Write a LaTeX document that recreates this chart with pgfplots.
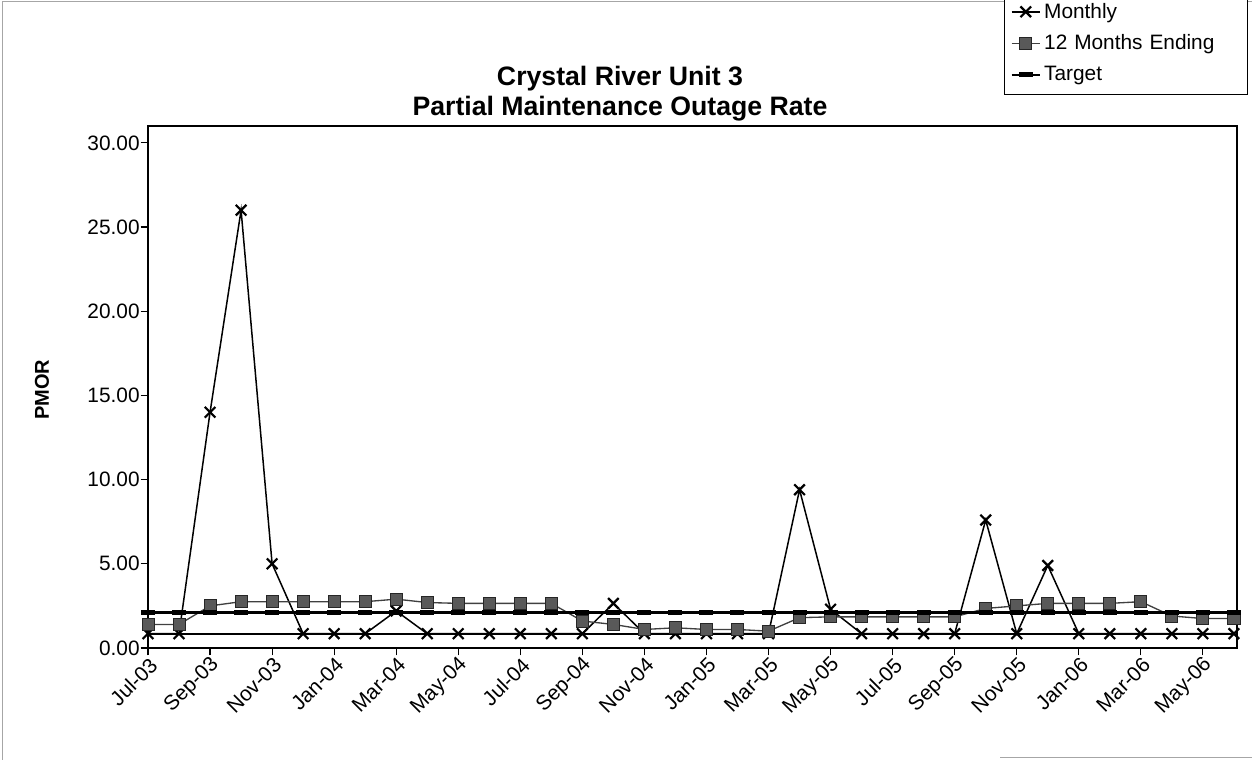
\documentclass[border=0pt]{standalone}
\usepackage{pgfplots}
\pgfplotsset{compat=1.18}
\usepackage{fontspec}
\setmainfont{Liberation Sans}
\begin{document}
\begin{tikzpicture}[x=1pt,y=1pt]
\path[use as bounding box] (0,0) rectangle (751.8,456.6);
\draw[black!35, line width=0.5pt] (1.2,0.8) -- (1.2,455.8);
\draw[black!35, line width=0.5pt] (1.2,455.8) -- (751.0,455.8);
\draw[black!35, line width=0.5pt] (600,2.4) -- (751.0,2.4);
\begin{axis}[
  anchor=south west, at={(88.8pt,67.8pt)},
  width=653.4pt, height=313.2pt, scale only axis,
  xmin=0, xmax=35.1, ymin=0, ymax=31,
  xtick={0,2,...,34},
  xticklabels={Jul-03,Sep-03,Nov-03,Jan-04,Mar-04,May-04,Jul-04,Sep-04,Nov-04,Jan-05,Mar-05,May-05,Jul-05,Sep-05,Nov-05,Jan-06,Mar-06,May-06},
  xticklabel style={rotate=45, anchor=east, font=\fontsize{12.5}{14}\selectfont, inner sep=1pt, yshift=-5pt, xshift=1pt},
  ytick={0,5,...,30},
  /pgf/number format/assume math mode=true,
  yticklabel style={/pgf/number format/fixed, /pgf/number format/fixed zerofill, /pgf/number format/precision=2, font=\fontsize{12.5}{14}\selectfont, xshift=3pt},
  tick pos=left, tick align=outside, major tick length=4.5pt,
  tick style={black, line width=0.7pt},
  axis line style={black, line width=1pt},
  clip=false,
  legend style={at={(1.0101,1.259)}, anchor=north east, draw=black, line width=0.6pt,
    font=\fontsize{12.5}{14}\selectfont, row sep=4.5pt, inner xsep=4pt, inner ysep=5pt,
    legend cell align=left, nodes={text width=116pt}},
  legend image post style={line width=1pt},
]
\addplot[forget plot, black, line width=1.1pt] coordinates {(0,0.85) (35,0.85)};
\addplot[black, line width=0.9pt, mark=x, mark size=4.5pt, mark options={line width=1.3pt}] coordinates {
(0,0.85) (1,0.85) (2,14.0) (3,26.0) (4,5.0) (5,0.85) (6,0.85) (7,0.85) (8,2.2) (9,0.85)
(10,0.85) (11,0.85) (12,0.85) (13,0.85) (14,0.85) (15,2.65) (16,0.85) (17,0.85) (18,0.85) (19,0.85)
(20,0.85) (21,9.4) (22,2.3) (23,0.85) (24,0.85) (25,0.85) (26,0.85) (27,7.6) (28,0.85) (29,4.9)
(30,0.85) (31,0.85) (32,0.85) (33,0.85) (34,0.85) (35,0.85)};
\addplot[black!75, line width=0.8pt, mark=square*, mark size=3.6pt, mark options={fill=black!65, draw=black!85, line width=0.5pt}] coordinates {
(0,1.4) (1,1.4) (2,2.5) (3,2.75) (4,2.75) (5,2.75) (6,2.75) (7,2.75) (8,2.9) (9,2.7)
(10,2.65) (11,2.65) (12,2.65) (13,2.65) (14,1.6) (15,1.4) (16,1.1) (17,1.2) (18,1.1) (19,1.1)
(20,1.0) (21,1.8) (22,1.85) (23,1.85) (24,1.85) (25,1.85) (26,1.85) (27,2.35) (28,2.5) (29,2.65)
(30,2.65) (31,2.65) (32,2.75) (33,1.9) (34,1.75) (35,1.75)};
\addplot[black, line width=1.8pt, mark=-, mark size=4.2pt, mark options={line width=3pt}] coordinates {
(0,2.1) (1,2.1) (2,2.1) (3,2.1) (4,2.1) (5,2.1) (6,2.1) (7,2.1) (8,2.1) (9,2.1)
(10,2.1) (11,2.1) (12,2.1) (13,2.1) (14,2.1) (15,2.1) (16,2.1) (17,2.1) (18,2.1) (19,2.1)
(20,2.1) (21,2.1) (22,2.1) (23,2.1) (24,2.1) (25,2.1) (26,2.1) (27,2.1) (28,2.1) (29,2.1)
(30,2.1) (31,2.1) (32,2.1) (33,2.1) (34,2.1) (35,2.1)};
\legend{Monthly, 12 Months Ending, Target}
\end{axis}
\node[font=\bfseries\fontsize{16}{18}\selectfont] at (372,409.2) {Crystal River Unit 3};
\node[font=\bfseries\fontsize{16}{18}\selectfont] at (372,391.2) {Partial Maintenance Outage Rate};
\node[font=\bfseries\fontsize{12}{14}\selectfont, rotate=90] at (25.2,222.6) {PMOR};
\end{tikzpicture}
\end{document}
